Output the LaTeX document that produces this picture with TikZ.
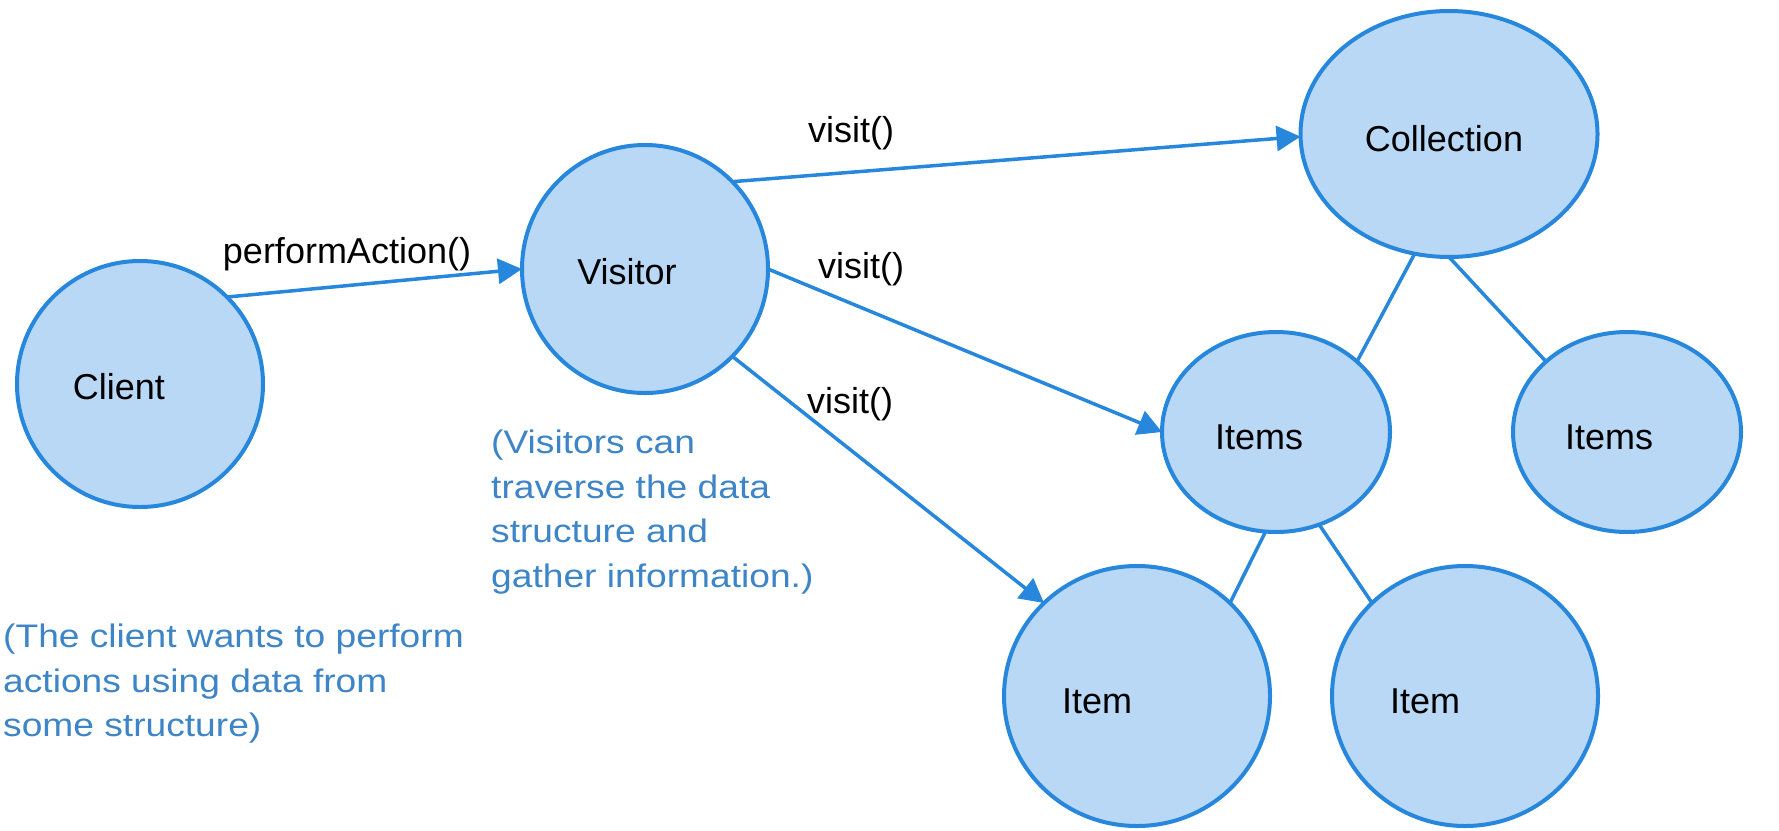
\documentclass[tikz,border=0pt]{standalone}
\usepackage{fontspec}
\setmainfont{Liberation Sans}
\newfontfamily\notefont[FakeStretch=1.14]{Liberation Sans}
\usetikzlibrary{shapes.geometric,arrows.meta}
\definecolor{bubblefill}{HTML}{B9D8F5}
\definecolor{bubbleline}{HTML}{2787DC}
\definecolor{notecolor}{HTML}{3D85C6}
\tikzset{
  bubble/.style={ellipse, draw=bubbleline, fill=bubblefill, line width=4pt,
    inner sep=0pt, outer sep=0pt},
  word/.style={anchor=base, inner sep=0pt, font=\fontsize{36}{43}\selectfont, text=black},
  note/.style={anchor=north west, inner sep=0pt, align=left, text=notecolor,
    font=\notefont\fontsize{32.6}{44.5}\selectfont},
  link/.style={draw=bubbleline, line width=3.5pt},
  call/.style={link, -{Triangle[length=24pt,width=25pt]}}
}
\begin{document}
\begin{tikzpicture}[x=1pt,y=-1pt]
\useasboundingbox (0,0) rectangle (1779,830);

% participants
\node[bubble, minimum width=246pt, minimum height=246pt] (client) at (140,384) {};
\node[bubble, minimum width=246pt, minimum height=248pt] (visitor) at (645,269) {};
\node[bubble, minimum width=297pt, minimum height=246pt] (coll) at (1449,134) {};
\node[bubble, minimum width=228pt, minimum height=200pt] (itemsA) at (1276,432) {};
\node[bubble, minimum width=228pt, minimum height=200pt] (itemsB) at (1627,432) {};
\node[bubble, minimum width=266pt, minimum height=260pt] (itemA) at (1137,696) {};
\node[bubble, minimum width=266pt, minimum height=260pt] (itemB) at (1465,696) {};

% names inside the bubbles
\node[word] (tclient) at (119,399) {Client};
\node[word] (tvisitor) at (627,284) {Visitor};
\node[word] (tcoll) at (1444,151) {Collection};
\node[word] (titemsA) at (1259,449) {Items};
\node[word] (titemsB) at (1609,449) {Items};
\node[word] (titemA) at (1097,713) {Item};
\node[word] (titemB) at (1425,713) {Item};

% calls
\draw[call] (client.45) -- (visitor.180);
\draw[call] (visitor.45) -- (coll.181);
\draw[call] (visitor.0) -- (itemsA.180);
\draw[call] (visitor.315) -- (itemA.135);

% structure of the collection
\draw[link] (coll.254) -- (itemsA.41);
\draw[link] (coll.270) -- (itemsB.139);
\draw[link] (itemsA.264) -- (itemA.45);
\draw[link] (itemsA.295) -- (itemB.135);

% call labels
\node[word] (lperform) at (347,263) {performAction()};
\node[word] (lvisit1) at (851,142) {visit()};
\node[word] (lvisit2) at (861,278) {visit()};
\node[word] (lvisit3) at (850,413) {visit()};

% remarks
\node[note] (nvisitor) at (491,430) {(Visitors can\\traverse the data\\structure and\\gather information.)};
\node[note] (nclient) at (3,624) {(The client wants to perform\\actions using data from\\some structure)};
\end{tikzpicture}
\end{document}
